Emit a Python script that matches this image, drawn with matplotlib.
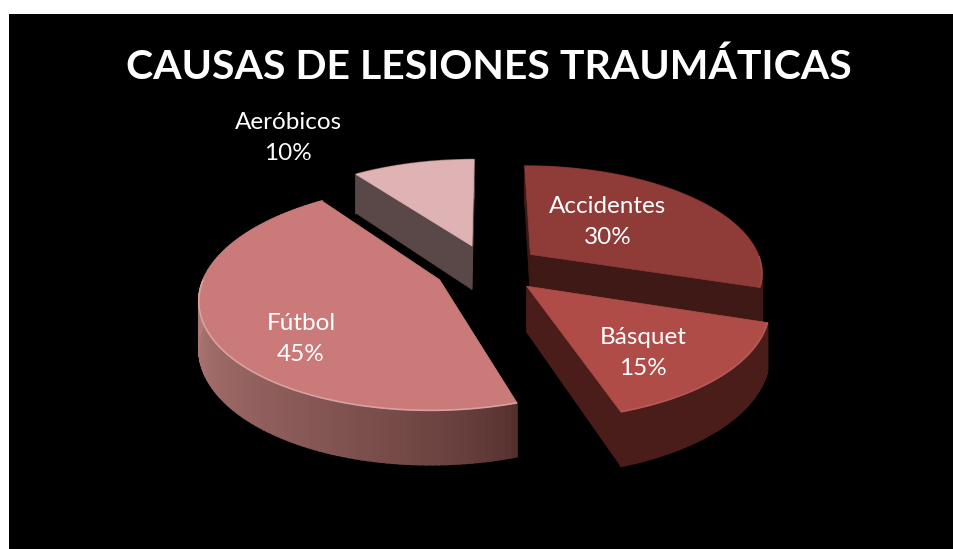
import numpy as np
import matplotlib
matplotlib.use("Agg")
import matplotlib.pyplot as plt
from matplotlib.patches import Rectangle

# Chart data
labels = ["Accidentes", "Básquet", "Fútbol", "Aeróbicos"]
values = [30, 15, 45, 10]
title = "CAUSAS DE LESIONES TRAUMÁTICAS"

# Colours per slice
top_colors = ["#8f3c39", "#b04c48", "#c97a79", "#dfb3b3"]
wall_light = ["#3e1916", "#4a1c1a", "#b27a78", "#5a4747"]
wall_dark = ["#3e1916", "#4a1c1a", "#54302d", "#5a4747"]
rim_mix = [0.06, 0.08, 0.3, 0.0]

# Perspective of the pie, in pixels
cx, cy = 488.0, 268.5
rad_x, rad_y = 232.5, 106.3
persp = 0.156
explode = 0.23
depth = 45.0

plt.rcParams['font.family'] = ['Lato', 'DejaVu Sans']

fig = plt.figure(figsize=(9.54, 5.49), dpi=100, facecolor="white")
ax = fig.add_axes([0, 0, 1, 1])
ax.set_xlim(0, 954)
ax.set_ylim(549, 0)
ax.axis("off")
ax.add_patch(Rectangle((9, 14), 945, 535, facecolor="black", edgecolor="none", zorder=0))


def project(x, y):
    w = 1 + persp * y
    return cx + rad_x * x / w, cy - rad_y * y / w, depth / w


def mix(c1, c2, t):
    a = np.array(matplotlib.colors.to_rgb(c1))
    b = np.array(matplotlib.colors.to_rgb(c2))
    return tuple(a + (b - a) * t)


edges = np.cumsum([0] + values) * 3.6

# Back slices first, then the front ones
for i in [3, 0, 2, 1]:
    start, end = edges[i], edges[i + 1]
    mid = np.radians((start + end) / 2)
    ox, oy = explode * np.sin(mid), explode * np.cos(mid)

    theta = np.radians(np.linspace(start, end, 121))
    px, py, pd = project(ox + np.sin(theta), oy + np.cos(theta))
    ax_, ay_, ad_ = project(ox, oy)

    # Radial walls
    for k in [0, -1]:
        ax.fill([ax_, px[k], px[k], ax_], [ay_, py[k], py[k] + pd[k], ay_ + ad_],
                color=wall_dark[i], lw=0.5)

    # Outer wall, shaded along the arc
    for k in range(len(theta) - 1):
        t = np.clip((np.degrees(theta[k]) - start) / 108.0, 0, 1) ** 0.7
        col = mix(wall_dark[i], wall_light[i], t)
        ax.fill([px[k], px[k + 1], px[k + 1], px[k]],
                [py[k], py[k + 1], py[k + 1] + pd[k + 1], py[k] + pd[k]],
                color=col, lw=1.2)

    # Top face
    ax.fill(np.r_[ax_, px], np.r_[ay_, py], color=top_colors[i], lw=0.5)

    # Light rim on the front of the arc
    front = np.cos(theta) < 0
    if rim_mix[i] > 0:
        ax.plot(px[front], py[front], color=mix(top_colors[i], "white", rim_mix[i]), lw=1.2,
                solid_capstyle="butt")

ax.text(489, 67, title, color="white", fontsize=29.5, fontweight="bold", ha="center", va="center")

label_pos = [(608, 222), (643, 353), (301, 339), (288, 138)]
for name, val, (tx, ty) in zip(labels, values, label_pos):
    ax.text(tx, ty, f"{name}\n{val}%", color="white", fontsize=17.5, ha="center", va="center",
            linespacing=1.55)

fig.savefig("out.png", dpi=100, facecolor="white")
